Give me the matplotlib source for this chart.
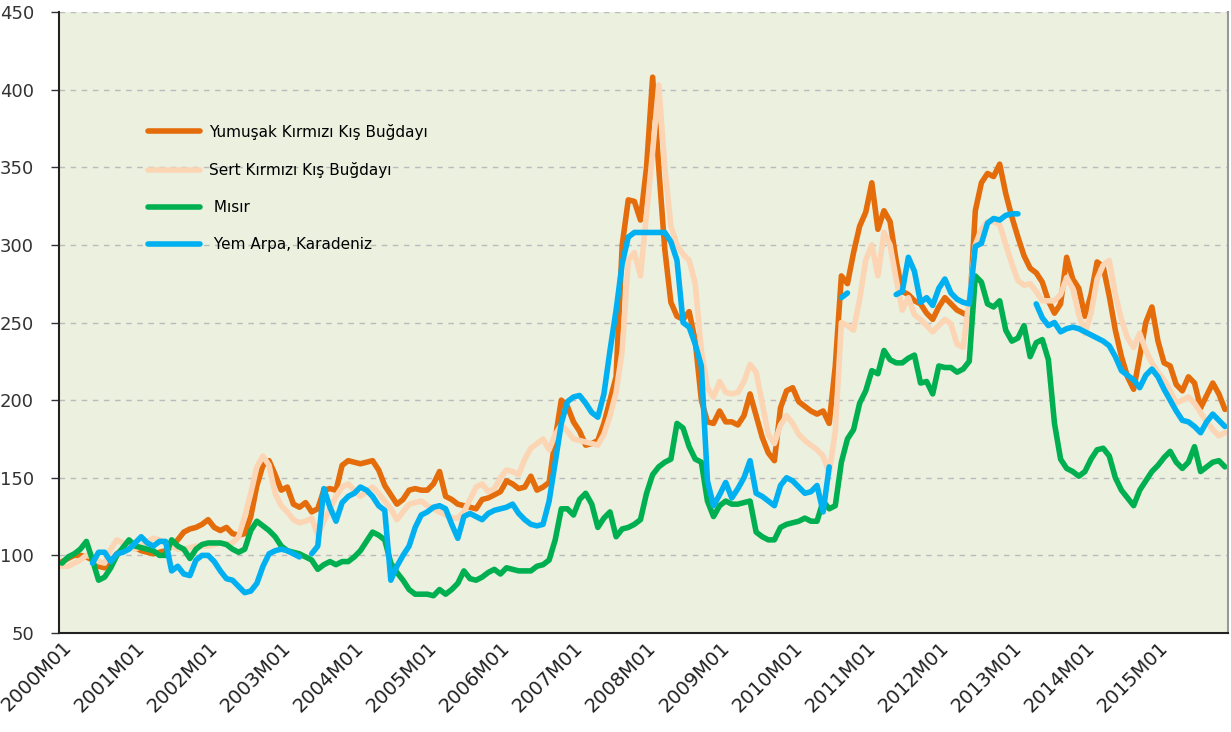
import numpy as np
import matplotlib
matplotlib.use("Agg")
import matplotlib.pyplot as plt
import matplotlib.transforms as mtransforms

nan = np.nan

# monthly index values, 2000M01 .. 2015M12 (one row per year)
years = list(range(2000, 2016))
months = [f"{y}M{m:02d}" for y in years for m in range(1, 13)]

srw_wheat = [  # Yumuşak Kırmızı Kış Buğdayı
    96, 98, 100, 100, 99, 97, 93, 92, 96, 101, 104, 106,
    105, 103, 102, 101, 102, 103, 106, 110, 115, 117, 118, 120,
    123, 118, 116, 118, 114, 113, 114, 125, 145, 158, 161, 152,
    142, 144, 133, 131, 134, 128, 130, 142, 143, 142, 158, 161,
    160, 159, 160, 161, 155, 145, 139, 133, 136, 142, 143, 142,
    142, 146, 154, 138, 136, 133, 132, 131, 130, 136, 137, 139,
    141, 148, 146, 143, 144, 151, 142, 144, 147, 175, 200, 196,
    186, 180, 171, 172, 174, 185, 200, 215, 300, 329, 328, 316,
    350, 408, 350, 297, 263, 254, 252, 257, 238, 200, 186, 185,
    193, 186, 186, 184, 190, 204, 190, 176, 166, 161, 195, 206,
    208, 199, 196, 193, 191, 193, 185, 222, 280, 275, 295, 312,
    321, 340, 310, 322, 315, 290, 270, 268, 264, 262, 256, 252,
    260, 266, 262, 258, 256, 254, 322, 340, 346, 344, 352, 333,
    318, 305, 293, 285, 282, 276, 264, 256, 262, 292, 278, 272,
    254, 268, 289, 286, 267, 245, 228, 215, 207, 228, 250, 260,
    238, 224, 222, 210, 206, 215, 211, 195, 203, 211, 204, 194,
]

hrw_wheat = [  # Sert Kırmızı Kış Buğdayı
    93, 93, 95, 97, 100, 99, 96, 95, 104, 110, 108, 106,
    104, 106, 109, 111, 110, 108, 106, 104, 104, 105, 106, 106,
    106, 107, 108, 107, 108, 112, 125, 140, 157, 164, 158, 140,
    132, 128, 123, 121, 122, 124, 113, 122, 130, 138, 144, 146,
    142, 138, 141, 144, 140, 135, 130, 123, 128, 133, 134, 135,
    132, 130, 128, 126, 124, 124, 128, 136, 144, 146, 141, 143,
    150, 155, 154, 152, 162, 169, 172, 175, 168, 178, 184, 180,
    175, 174, 173, 172, 171, 178, 190, 205, 232, 290, 295, 280,
    320, 360, 403, 350, 312, 300, 294, 290, 275, 232, 208, 202,
    212, 205, 204, 205, 212, 223, 218, 198, 178, 172, 184, 190,
    185, 178, 174, 171, 168, 164, 153, 180, 250, 248, 245, 265,
    290, 300, 280, 308, 300, 278, 258, 266, 255, 252, 248, 244,
    248, 252, 249, 236, 234, 265, 300, 310, 315, 315, 313, 300,
    288, 277, 274, 275, 270, 264, 264, 264, 268, 279, 272, 255,
    243, 256, 278, 287, 290, 268, 252, 240, 234, 243, 232, 224,
    218, 213, 206, 198, 200, 202, 198, 192, 186, 181, 177, 179,
]

maize = [  # Mısır
    95, 99, 101, 104, 109, 97, 84, 86, 92, 100, 105, 110,
    106, 105, 104, 103, 100, 100, 110, 106, 104, 98, 104, 107,
    108, 108, 108, 107, 104, 102, 104, 116, 122, 119, 116, 112,
    106, 103, 102, 101, 99, 97, 91, 94, 96, 94, 96, 96,
    99, 103, 109, 115, 113, 110, 95, 89, 84, 78, 75, 75,
    75, 74, 78, 75, 78, 82, 90, 85, 84, 86, 89, 91,
    88, 92, 91, 90, 90, 90, 93, 94, 97, 110, 130, 130,
    126, 136, 140, 133, 118, 124, 128, 112, 117, 118, 120, 123,
    140, 152, 157, 160, 162, 185, 182, 170, 162, 160, 135, 125,
    132, 135, 133, 133, 134, 135, 115, 112, 110, 110, 118, 120,
    121, 122, 124, 122, 122, 135, 130, 132, 160, 175, 181, 198,
    206, 219, 217, 232, 226, 224, 224, 227, 229, 211, 212, 204,
    222, 221, 221, 218, 220, 225, 280, 276, 262, 260, 264, 245,
    238, 240, 248, 228, 237, 239, 226, 185, 162, 156, 154, 151,
    154, 162, 168, 169, 164, 150, 142, 137, 132, 142, 148, 154,
    158, 163, 167, 160, 156, 160, 170, 154, 157, 160, 161, 157,
]

barley = [  # Yem Arpa, Karadeniz
    nan, nan, nan, nan, nan, 95, 102, 102, 96, 101, 102, 104,
    108, 112, 108, 106, 109, 109, 90, 93, 88, 87, 97, 100,
    100, 96, 90, 85, 84, 80, 76, 77, 82, 93, 101, 103,
    104, 103, 101, 99, nan, 101, 106, 143, 131, 122, 134, 138,
    140, 144, 142, 138, 132, 129, 84, 93, 100, 106, 118, 126,
    128, 131, 132, 130, 120, 111, 125, 127, 125, 123, 127, 129,
    130, 131, 133, 127, 123, 120, 119, 120, 135, 160, 185, 199,
    202, 203, 198, 192, 189, 204, 232, 258, 288, 305, 308, 308,
    308, 308, 308, 308, 302, 290, 250, 247, 236, 222, 148, 132,
    139, 147, 137, 143, 150, 161, 140, 138, 135, 132, 145, 150,
    148, 144, 140, 141, 145, 128, 157, nan, 266, 269, nan, nan,
    nan, nan, nan, nan, nan, 268, 270, 292, 283, 263, 266, 261,
    272, 278, 269, 265, 263, 262, 299, 301, 314, 317, 316, 319,
    320, 320, nan, nan, 262, 253, 248, 250, 244, 246, 247, 246,
    244, 242, 240, 238, 235, 228, 219, 216, 213, 208, 216, 220,
    215, 207, 200, 193, 187, 186, 183, 179, 186, 191, 187, 183,
]

series_names = [
    "Yumuşak Kırmızı Kış Buğdayı",
    "Sert Kırmızı Kış Buğdayı",
    " Mısır",
    " Yem Arpa, Karadeniz",
]
series_colors = ["#E46C0A", "#FCD5B5", "#00B050", "#00B0F0"]

fig = plt.figure(figsize=(12.31, 7.32), dpi=100)
ax = fig.add_axes([59 / 1231, 1 - 633 / 732, (1228 - 59) / 1231, (633 - 12) / 732])
ax.set_facecolor("#EBF0DF")

x = np.arange(len(months))
for vals, name, col in zip([srw_wheat, hrw_wheat, maize, barley], series_names, series_colors):
    ax.plot(x, vals, color=col, lw=4, label=name, solid_joinstyle="round",
            solid_capstyle="round")

ax.set_xlim(-0.5, len(months) - 0.5)
ax.set_ylim(50, 450)
ax.set_yticks(range(50, 451, 50))
ax.yaxis.grid(True, color="#BBBBBB", lw=1, ls=(0, (4, 4)))
ax.set_axisbelow(True)

year_pos = x[::12]
ax.set_xticks(year_pos)
ax.set_xticklabels(months[::12], rotation=45, ha="right", rotation_mode="anchor",
                   fontsize=14, color="#222222")
offset = mtransforms.ScaledTranslation(11 / 100, -10 / 100, fig.dpi_scale_trans)
for lbl in ax.get_xticklabels():
    lbl.set_transform(lbl.get_transform() + offset)
ax.tick_params(axis="x", length=0)
ax.tick_params(axis="y", length=6, width=1, color="#333333", labelsize=13,
               labelcolor="#333333", pad=12)

ax.spines["top"].set_visible(False)
ax.spines["right"].set_color("#999999")
ax.spines["right"].set_linewidth(1.5)
ax.spines["left"].set_color("#222222")
ax.spines["left"].set_linewidth(1.5)
ax.spines["bottom"].set_color("#222222")
ax.spines["bottom"].set_linewidth(1.5)

ax.legend(loc="upper left", bbox_to_anchor=(0.076, 0.82), frameon=False,
          fontsize=11, handlelength=3.4, handletextpad=0.6, labelspacing=1.45,
          borderpad=0, borderaxespad=0)

fig.savefig("out.png", dpi=100)
